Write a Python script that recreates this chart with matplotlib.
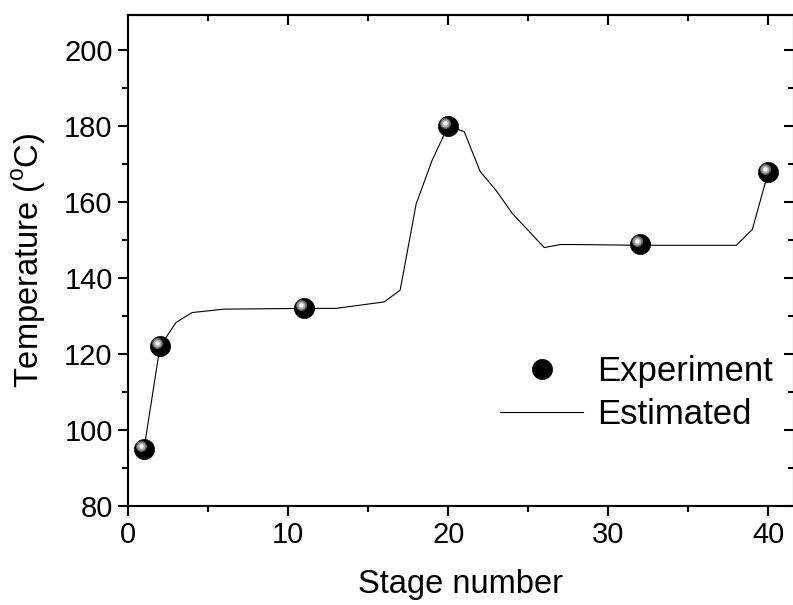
import matplotlib
matplotlib.use("Agg")
import matplotlib.pyplot as plt
import matplotlib.transforms as mtransforms
from matplotlib.ticker import MultipleLocator

plt.rcParams['font.family'] = ['Liberation Sans', 'DejaVu Sans']
plt.rcParams['mathtext.fontset'] = 'custom'
plt.rcParams['mathtext.rm'] = 'Liberation Sans'

# Experiment data
exp_stage = [1, 2, 11, 20, 32, 40]
exp_temp = [95, 122, 132, 180, 149, 168]

# Estimated profile
est_stage = [1, 2, 3, 4, 6, 11, 13, 16, 17, 18, 19, 20, 21, 22, 23, 24, 26, 27, 28, 32, 38, 39, 40]
est_temp = [95, 122, 128.3, 130.9, 131.8, 132, 132, 133.7, 136.8, 159.5, 171, 180, 178.5, 168,
            163, 157, 148, 148.8, 148.8, 148.6, 148.6, 152.8, 168]

xticks = [0, 10, 20, 30, 40]
yticks = [80, 100, 120, 140, 160, 180, 200]

fig = plt.figure(figsize=(7.93, 6.05), dpi=100)
ax = fig.add_axes([128/793, 99/605, 666/793, 491/605])

ax.plot(est_stage, est_temp, color='black', lw=0.8, label='Estimated', zorder=2)
ax.plot(exp_stage, exp_temp, linestyle='none', marker='o', ms=14.5, mfc='black',
        mec='black', mew=0.5, label='Experiment', zorder=3)
# sphere highlights
off1 = mtransforms.offset_copy(ax.transData, fig=fig, x=-2.4, y=2.2, units='points')
ax.plot(exp_stage, exp_temp, linestyle='none', marker='o', ms=8, mfc='#5a5a5a',
        mec='none', transform=off1, zorder=4)
ax.plot(exp_stage, exp_temp, linestyle='none', marker='o', ms=6, mfc='#a8a8a8',
        mec='none', transform=off1, zorder=5)
ax.plot(exp_stage, exp_temp, linestyle='none', marker='o', ms=3.2, mfc='#f4f4f4',
        mec='none', transform=off1, zorder=6)

ax.set_xlim(0, 41.6)
ax.set_ylim(80, 209.2)
ax.set_xticks(xticks)
ax.set_yticks(yticks)
ax.xaxis.set_minor_locator(MultipleLocator(5))
ax.yaxis.set_minor_locator(MultipleLocator(10))

for s in ax.spines.values():
    s.set_linewidth(1.5)

ax.tick_params(axis='both', which='major', direction='out', length=7, width=1.5,
               labelsize=21, pad=4)
ax.tick_params(axis='both', which='minor', direction='out', length=4, width=1.5)

secx = ax.secondary_xaxis('top')
secx.set_xticks(xticks)
secx.xaxis.set_minor_locator(MultipleLocator(5))
secx.tick_params(which='major', direction='in', length=7, width=1.5, labeltop=False)
secx.tick_params(which='minor', direction='in', length=4, width=1.5)
secx.spines['top'].set_linewidth(1.5)

secy = ax.secondary_yaxis('right')
secy.set_yticks(yticks)
secy.yaxis.set_minor_locator(MultipleLocator(10))
secy.tick_params(which='major', direction='in', length=7, width=1.5, labelright=False)
secy.tick_params(which='minor', direction='in', length=4, width=1.5)
secy.spines['right'].set_linewidth(1.5)

ax.set_xlabel('Stage number', fontsize=23.5, labelpad=14)
ax.set_ylabel('Temperature ($^{\\rm o}$C)', fontsize=23.5, labelpad=12)

handles, labels = ax.get_legend_handles_labels()
leg = ax.legend([handles[1], handles[0]], [labels[1], labels[0]], frameon=False,
                fontsize=25, loc='upper left',
                bbox_to_anchor=(500/793, 1 - 355/605), bbox_transform=fig.transFigure,
                borderpad=0, borderaxespad=0, handlelength=2.4, handletextpad=0.4,
                labelspacing=0.3, markerscale=1.0)

fig.savefig('out.png', dpi=100)
